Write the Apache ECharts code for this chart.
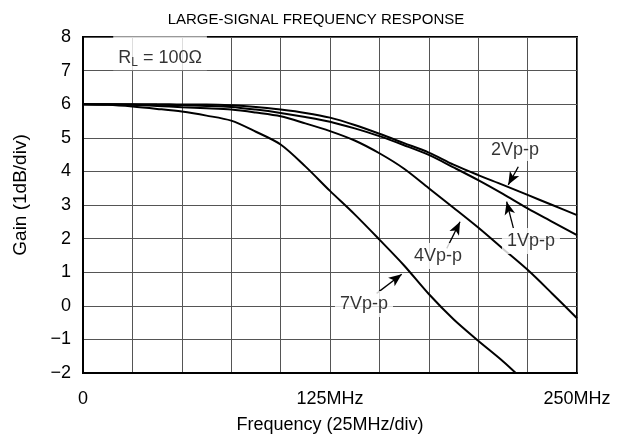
<!DOCTYPE html>
<html>
<head>
<meta charset="utf-8">
<script src="https://cdn.jsdelivr.net/npm/echarts@6/dist/echarts.min.js"></script>
<style>html,body{margin:0;padding:0;background:#fff}#c{width:632px;height:443px}</style>
</head>
<body>
<div id="c"></div>
<script>
// Frequency (MHz) sample points
const freqs = [0, 12.5, 25, 37.5, 50, 62.5, 75, 87.5, 100, 112.5, 125, 137.5, 150, 162.5, 175, 187.5, 200, 212.5, 225, 237.5, 250];
// Gain (dB)
const gain2 = [6.0, 6.0, 6.0, 6.0, 5.99, 5.99, 5.97, 5.92, 5.84, 5.74, 5.6, 5.38, 5.12, 4.84, 4.56, 4.2, 3.89, 3.6, 3.3, 3.0, 2.7];
const gain1 = [6.0, 6.0, 5.99, 5.98, 5.97, 5.95, 5.92, 5.84, 5.74, 5.62, 5.48, 5.28, 5.05, 4.78, 4.49, 4.12, 3.74, 3.33, 2.9, 2.5, 2.1];
const gain4 = [6.0, 5.99, 5.98, 5.95, 5.91, 5.88, 5.84, 5.75, 5.64, 5.43, 5.2, 4.92, 4.54, 4.08, 3.5, 2.92, 2.33, 1.7, 1.07, 0.36, -0.37];
const freqs7 = [0, 12.5, 25, 37.5, 50, 62.5, 75, 87.5, 100, 112.5, 125, 137.5, 150, 162.5, 175, 187.5, 200, 212.5, 219];
const gain7 = [6.0, 5.98, 5.93, 5.86, 5.78, 5.66, 5.51, 5.18, 4.8, 4.15, 3.42, 2.72, 1.97, 1.2, 0.35, -0.4, -1.04, -1.65, -2.0];

const xTickLabels = {0: '0', 125: '125MHz', 250: '250MHz'};
const yTicks = [-2, -1, 0, 1, 2, 3, 4, 5, 6, 7, 8];

// annotation labels (anchor in data units) and arrows [from, to]
const labelTexts = ['{a|R}{s|L}{a| = 100\u03A9}', '2Vp-p', '1Vp-p', '4Vp-p', '7Vp-p'];
const labelAnchors = [[39.0, 7.52], [218.6, 4.64], [226.7, 1.93], [179.7, 1.48], [142.2, 0.05]];
const labelPads = [[11, 5, 1, 5], [2, 3, 2, 3], [4, 5, 4, 5], [4, 4, 4, 4], [4, 5, 4, 5]];
const arrows = [
  [[220.3, 4.14], [215.2, 3.60]],
  [[217.8, 2.31], [214.4, 3.10]],
  [[184.1, 1.71], [190.8, 2.50]],
  [[148.6, 0.37], [161.3, 0.94]]
];

const zip = (xs, ys) => xs.map((x, i) => [x, ys[i]]);
const FONT = 'Liberation Sans, Arial, sans-serif';
const FS = 18;

const curve = (name, xs, ys) => ({
  name, type: 'line', data: zip(xs, ys), smooth: 0.3, showSymbol: false, symbol: 'none',
  lineStyle: {color: '#000', width: 2}, silent: true, z: 3
});

const chart = echarts.init(document.getElementById('c'), null, {renderer: 'canvas'});
chart.setOption({
  animation: false,
  backgroundColor: '#fff',
  title: {
    text: 'LARGE-SIGNAL FREQUENCY RESPONSE', left: 'center', top: 7,
    textStyle: {fontFamily: FONT, fontSize: 15, fontWeight: 'normal', color: '#000'}
  },
  grid: {left: 83, right: 55, top: 37, bottom: 70, show: true, borderColor: '#000', borderWidth: 2, containLabel: false},
  xAxis: {
    type: 'value', min: 0, max: 250, interval: 25,
    name: 'Frequency (25MHz/div)', nameLocation: 'middle', nameGap: 43,
    nameTextStyle: {fontFamily: FONT, fontSize: FS, color: '#000'},
    axisLine: {show: true, onZero: false, lineStyle: {color: '#000', width: 2}},
    axisTick: {show: false},
    axisLabel: {
      fontFamily: FONT, fontSize: FS, color: '#000', margin: 17, showMinLabel: true, showMaxLabel: true,
      formatter: v => (xTickLabels[v] !== undefined ? xTickLabels[v] : '')
    },
    splitLine: {show: true, lineStyle: {color: '#555', width: 1}}
  },
  yAxis: {
    type: 'value', min: yTicks[0], max: yTicks[yTicks.length - 1], interval: 1,
    name: 'Gain (1dB/div)', nameLocation: 'middle', nameGap: 53,
    nameTextStyle: {fontFamily: FONT, fontSize: 19, color: '#000', padding: [0, 0, 0, 20]},
    axisLine: {show: true, onZero: false, lineStyle: {color: '#000', width: 2}},
    axisTick: {show: false},
    axisLabel: {
      fontFamily: FONT, fontSize: FS, color: '#000', margin: 12,
      formatter: v => (v < 0 ? '\u2212' + Math.abs(v) : String(v))
    },
    splitLine: {show: true, lineStyle: {color: '#555', width: 1}}
  },
  series: [
    curve('2Vp-p', freqs, gain2),
    curve('1Vp-p', freqs, gain1),
    curve('4Vp-p', freqs, gain4),
    curve('7Vp-p', freqs7, gain7),
    {
      type: 'scatter', silent: true, symbolSize: 0, z: 5,
      itemStyle: {color: '#000'},
      data: labelAnchors.map((p, i) => ({
        value: p,
        label: {
          show: true, position: [0, 0], align: 'center', verticalAlign: 'middle',
          formatter: labelTexts[i],
          fontFamily: FONT, fontSize: FS, color: '#000',
          backgroundColor: '#fff', padding: labelPads[i],
          rich: {
            a: {fontFamily: FONT, fontSize: FS, color: '#000'},
            s: {fontFamily: FONT, fontSize: 12, color: '#000', padding: [10, 0, 0, 0]}
          }
        }
      })),
      markLine: {
        silent: true, symbol: ['none', 'arrow'], symbolSize: [8, 13],
        label: {show: false},
        lineStyle: {color: '#000', width: 1.3, type: 'solid'},
        data: arrows.map(a => [{coord: a[0]}, {coord: a[1]}])
      }
    }
  ]
});
</script>
</body>
</html>
